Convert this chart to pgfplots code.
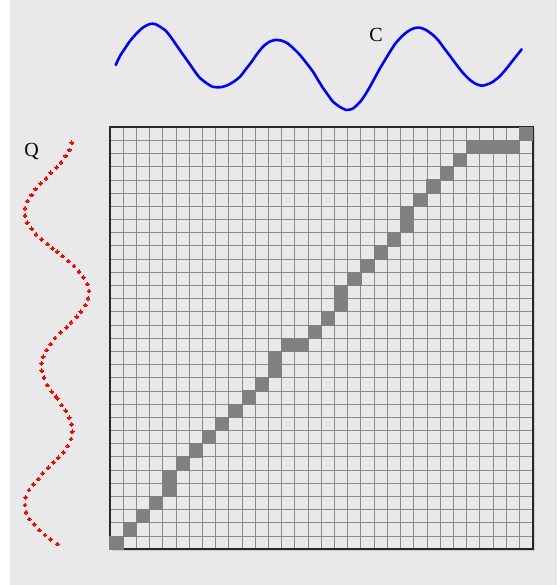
\documentclass[border=0pt]{standalone}
\usepackage{fontspec}
\setmainfont{Liberation Serif}
\usepackage{pgfplots}
\pgfplotsset{compat=1.18}
\definecolor{bgcol}{RGB}{233,233,233}
\definecolor{cellcol}{RGB}{233,233,233}
\definecolor{gridcol}{RGB}{138,138,138}
\definecolor{pathcol}{RGB}{128,128,128}
\definecolor{bordercol}{RGB}{40,40,40}
\definecolor{shadowcol}{RGB}{205,205,205}
\begin{document}
\begin{tikzpicture}[x=1pt,y=1pt]
\fill[white] (0,0) rectangle (557,585);
\fill[bgcol] (10,0) rectangle (557,585);
\fill[shadowcol] (112.2,33.5) rectangle (534.9,455.7);
% grid axis
\begin{axis}[
  at={(110pt,35.7pt)}, anchor=south west,
  width=422.7pt, height=422pt, scale only axis,
  xmin=0, xmax=32, ymin=0, ymax=32,
  xtick={0,...,32}, ytick={0,...,32},
  xticklabels={}, yticklabels={},
  major tick length=0pt,
  grid=major,
  major grid style={draw=gridcol, line width=1pt},
  axis background/.style={fill=cellcol},
  axis line style={draw=bordercol, line width=1.6pt},
  clip=false,
]
\addplot[color=pathcol, only marks, mark=square*, mark size=6.65pt,
  mark options={solid, fill=pathcol, draw=pathcol, line width=0pt}] coordinates {
(0.5,0.5) (1.5,1.5) (2.5,2.5) (3.5,3.5) (4.5,4.5) (4.5,5.5) (5.5,6.5) (6.5,7.5)
(7.5,8.5) (8.5,9.5) (9.5,10.5) (10.5,11.5) (11.5,12.5) (12.5,13.5) (12.5,14.5)
(13.5,15.5) (14.5,15.5) (15.5,16.5) (16.5,17.5) (17.5,18.5) (17.5,19.5)
(18.5,20.5) (19.5,21.5) (20.5,22.5) (21.5,23.5) (22.5,24.5) (22.5,25.5)
(23.5,26.5) (24.5,27.5) (25.5,28.5) (26.5,29.5) (27.5,30.5) (28.5,30.5)
(29.5,30.5) (30.5,30.5) (31.5,31.5)
};
\end{axis}
% overlay axis in image pixel coordinates
\begin{axis}[
  at={(0pt,0pt)}, anchor=south west,
  width=557pt, height=585pt, scale only axis,
  xmin=0, xmax=557, ymin=0, ymax=585, y dir=reverse,
  axis lines=none, clip=false,
]
\addplot[blue, line width=2.6pt, line join=round, line cap=round, smooth, tension=0.4] coordinates {
(115.7,65) (120,56) (125,48.3) (130,41) (136.7,33.3) (143,27.5) (150,24) (155,24)
(160,26.7) (166,31) (171.7,38.3) (177,46) (183.3,55) (189,63) (195,71.7) (200,78)
(206.7,83.3) (212,86.5) (216.7,87.3) (222,87) (228,85) (234,81.5) (240,76.7)
(246,69) (251.7,61.7) (257,54) (263,46.7) (269,42) (275,40) (281,40.5) (287,43)
(293,48) (300,55) (306,62.5) (313,71.7) (318,80) (323,88) (328,95) (333,101.7)
(340,107) (346.7,110) (353,108.5) (360,102) (365,95) (370,86.7) (375,77.5)
(380,68.3) (385,60) (390,51.7) (395,44) (400,38.3) (405,33.5) (410,30) (415,28)
(420,27.7) (426,30) (433,35) (438,40) (443,46.7) (450,56) (456.7,65) (463,73)
(470,80) (476,84) (481.7,85.7) (487,84.5) (493,81.7) (500,76) (506.7,68.3)
(514,59) (521.7,49.3)
};
\addplot[color=red, only marks, mark=*, mark size=1.9pt, mark options={solid, fill=red, draw=red, line width=0pt}] coordinates {
(71.7,142.7) (69.3,150) (65.7,156) (61,162.3) (56.7,167.3) (50.7,172.7) (46,178.3)
(40.7,183.3) (35.7,189) (31.7,195) (27.3,201) (25,208.3) (25,215.7) (27.3,222.7)
(31.7,228.7) (36,234.3) (41.7,239.3) (47.7,244) (52.7,248.3) (57.3,251.7) (62.7,256)
(68.3,261) (74,266) (79,271.7) (83.3,277.3) (87.3,284) (89,291) (88,298.3)
(85.3,305) (80.7,311.7) (76.7,316.7) (71,322.3) (66.7,327.3) (60.7,332.3) (55,338)
(50.7,344) (46.7,350) (43.3,356.7) (41.7,363.3) (41.7,370.7) (44,377.7) (47.3,385)
(51.7,391.7) (56,396.7) (57.3,398.3) (61.7,405) (65.7,410.7) (69.3,417.7)
(71.7,424.3) (72.3,431.7) (71,439) (67.7,446) (63.3,452.3) (58.3,457.7) (53.3,462.3)
(48.3,467.7) (42.7,473.3) (38.3,479) (33.3,484.3) (29,490) (25.7,497.3) (25,505)
(26,512.3) (29.3,519) (34.3,524.3) (39.3,530) (45,535) (50.7,539.3) (57.3,544)
};
\node[font=\fontsize{20}{22}\selectfont, inner sep=0pt] at (axis cs:376,34.5) {C};
\node[font=\fontsize{20}{22}\selectfont, inner sep=0pt] at (axis cs:31.5,151.5) {Q};
\end{axis}
\end{tikzpicture}
\end{document}
